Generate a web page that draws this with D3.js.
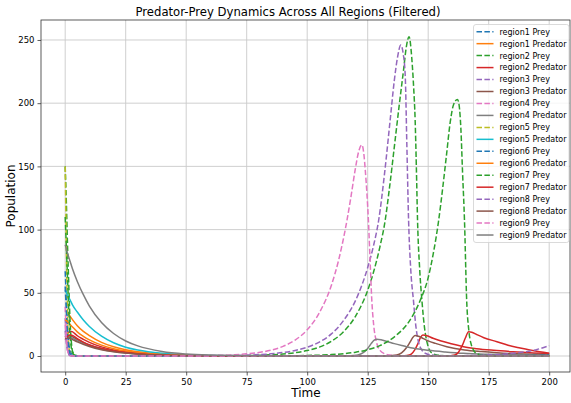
<!DOCTYPE html>
<html><head><meta charset="utf-8">
<script src="https://cdn.jsdelivr.net/npm/d3@7"></script>
<style>body{margin:0;background:#fff}text{font-family:"DejaVu Sans",sans-serif}</style>
</head><body><svg id="c" width="571" height="403"></svg>
<script>
const title = "Predator-Prey Dynamics Across All Regions (Filtered)";
const xTicks = [0,25,50,75,100,125,150,175,200];
const yTicks = [0,50,100,150,200,250];
const regions = ["region1","region2","region3","region4","region5","region6","region7","region8","region9"];

// [time, population]
const region1Prey = [[0,67],[0.5,45],[1,22],[1.5,10],[2,4],[3,1],[4,0.3],[6,0.05],[20,0.01],[100,0.01],[150,0.05],[170,0.2],[185,0.6],[200,1.8]];
const region1Pred = [[0,36],[1,34],[2,31.5],[3,28.8],[5,24],[7.5,19.5],[10,16.2],[15,10.8],[20,7.3],[25,4.9],[30,3.3],[40,1.5],[50,0.66],[60,0.3],[80,0.06],[100,0.01],[200,0.01]];
const region2Prey = [[0,150],[0.5,120],[1,85],[1.5,55],[2,28],[2.5,12],[3,4],[4,1],[5,0.3],[8,0.05],[30,0.02],[50,0.04],[60,0.08],[70,0.21],[80,0.58],[85,0.95],[90,1.6],[95,2.6],[100,4.3],[105,7],[110,11.6],[115,19.2],[120,31.6],[125,52],[127.5,67],[130,86],[132.2,107],[134,133],[136.4,172],[138,198],[139.8,226],[141,245],[142.1,252.6],[143.2,236],[144,212],[144.6,187],[145.1,150],[145.6,107],[146.5,68],[147.4,44],[148.5,22],[149.5,11],[151.5,2.4],[154,0.7],[158,0.2],[170,0.05],[200,0.05]];
const region2Pred = [[0,15],[1,18],[2,19.2],[2.7,19.3],[4,17.7],[5,16],[7.5,13.2],[10,10.8],[15,7.2],[20,4.8],[25,3.2],[30,2.2],[40,1],[50,0.44],[60,0.2],[80,0.04],[100,0.01],[135,0.02],[139,0.1],[141.2,0.4],[143,1.5],[144.5,5],[145.8,10],[146.8,14.5],[147.8,16.6],[149.5,16],[152,14],[155,12],[160,9.5],[164.6,7.4],[170,5.8],[177,4.5],[185,3.4],[192,2.6],[200,2]];
const region3Prey = [[0,30],[0.5,16],[1,6],[1.5,2],[2,0.6],[3,0.1],[10,0.01],[40,0.03],[50,0.07],[60,0.17],[70,0.44],[75,0.7],[80,1.1],[85,1.75],[90,2.8],[95,4.4],[100,7],[105,11],[110,17.5],[115,28],[120,44],[125,70],[127.5,88],[129.5,107],[132,145],[134.3,187],[136,218],[137.3,236],[138.7,246],[139.6,240],[140.5,222],[141.2,165],[141.9,107],[142.8,68],[143.9,44],[145,22],[146,11],[147.4,4.7],[149,2],[152,0.7],[156,0.25],[165,0.1],[200,0.1]];
const region3Pred = [[0,16],[1,16.6],[2,16.2],[3,15.2],[5,13],[10,8.7],[15,5.9],[20,3.9],[25,2.6],[30,1.8],[40,0.8],[50,0.36],[60,0.16],[80,0.03],[100,0.01],[128,0.02],[133,0.15],[137,0.8],[139,2.5],[141,6.5],[142.5,11],[143.7,14.8],[144.6,16.2],[146,15.6],[148,13.8],[150,12],[153,10],[157.7,7.4],[165,4.8],[172,3.5],[178.4,2.6],[190,1.5],[200,1]];
const region4Prey = [[0,39],[0.5,20],[1,6],[1.5,1.5],[2,0.4],[3,0.05],[10,0.02],[30,0.03],[40,0.06],[50,0.14],[60,0.37],[70,1.0],[75,1.7],[80,2.8],[85,4.6],[90,7.6],[95,12.6],[100,20.7],[105,34.2],[110,56],[113,76],[116.4,107],[118,125],[119.8,147],[121.3,162],[122.6,167],[123.4,160],[124,147],[124.7,128],[125.3,107],[126,75],[126.7,44],[127.5,24],[128.5,12],[130,4.7],[132,1.8],[134,0.8],[138,0.2],[150,0.05],[200,0.05]];
const region4Pred = [[0,15],[1,15.4],[2,14.8],[3,14],[5,12],[10,8],[15,5.4],[20,3.6],[25,2.4],[30,1.6],[40,0.73],[50,0.33],[60,0.15],[80,0.03],[100,0.01],[112,0.03],[116,0.15],[119,0.4],[121,0.9],[123,2.5],[125,6],[126.5,10],[127.7,12.5],[128.8,13.2],[130.5,12.8],[133,11.5],[136,9.8],[140,7.9],[144,6.1],[150,4.5],[157,3.2],[164.6,2.1],[175,1.4],[187,1],[200,0.7]];
const region5Prey = [[0,150],[0.3,110],[0.6,70],[1,30],[1.5,8],[2,2],[3,0.2],[5,0.02],[200,0.01]];
const region5Pred = [[0,52],[1,48],[2,44.5],[3,40.5],[5,34.8],[7.5,28.5],[10,23.4],[15,15.7],[20,10.5],[25,7],[30,4.7],[40,2.1],[50,0.95],[60,0.43],[70,0.19],[80,0.09],[100,0.02],[200,0.01]];
const region6Prey = [[0,55],[0.5,35],[1,16],[1.5,6],[2,2],[3,0.5],[4,0.1],[10,0.01],[150,0.01],[180,0.1],[200,0.6]];
const region6Pred = [[0,28.5],[1,27],[2,25],[3,23],[5,19.1],[7.5,15.6],[10,12.8],[15,8.6],[20,5.8],[25,3.9],[30,2.6],[40,1.2],[50,0.52],[60,0.23],[80,0.05],[100,0.01],[200,0.01]];
const region7Prey = [[0,110],[0.5,85],[1,60],[1.5,35],[2,17],[2.5,7],[3,2.5],[4,0.6],[6,0.1],[30,0.01],[60,0.02],[80,0.06],[90,0.15],[100,0.41],[110,1.1],[115,1.85],[120,3],[125,5],[130,8.2],[137,16.7],[142,27],[146.7,44],[150,62],[152,80],[154.3,107],[156,133],[157.5,158],[159.1,185],[160.5,199],[162.1,203],[162.8,198],[163.5,180],[164.2,145],[165,107],[165.9,44],[166.8,20],[167.8,9],[168.7,4.7],[170,2],[172,0.8],[175,0.3],[185,0.1],[200,0.08]];
const region7Pred = [[0,13],[1,15.5],[2,16.6],[3,16.2],[5,13.8],[7.5,11],[10,8.8],[15,5.9],[20,4],[25,2.7],[30,1.8],[40,0.8],[50,0.36],[60,0.16],[80,0.03],[100,0.01],[150,0.01],[157,0.05],[159.5,0.3],[161,0.8],[162.5,3],[164,8],[165.3,14],[166.7,19.2],[168,18.8],[170,17],[173,14.5],[178.4,11.3],[183,8.5],[188,6.3],[192,4.7],[196,3.3],[200,2.2]];
const region8Prey = [[0,20],[0.5,10],[1,4],[1.5,1.2],[2,0.4],[3,0.08],[10,0.01],[120,0.02],[150,0.08],[160,0.2],[170,0.5],[180,1.3],[185,2.1],[190,3.3],[195,5.2],[200,8.2]];
const region8Pred = [[0,14],[1,14.4],[2,13.8],[3,13],[5,11.2],[10,7.5],[15,5],[20,3.4],[25,2.3],[30,1.5],[40,0.7],[50,0.3],[60,0.14],[80,0.03],[100,0.01],[200,0.01]];
const region9Prey = [[0,25],[0.5,12],[1,4],[1.5,1],[2,0.3],[3,0.05],[10,0.01],[200,0.01]];
const region9Pred = [[0,88],[1,81],[2,75],[3,69],[5,59],[7.5,48.5],[10,39.5],[15,26.5],[20,17.8],[25,11.9],[30,8],[40,3.6],[50,1.6],[60,0.72],[70,0.33],[80,0.15],[100,0.03],[200,0.01]];

const preyData = [region1Prey,region2Prey,region3Prey,region4Prey,region5Prey,region6Prey,region7Prey,region8Prey,region9Prey];
const predData = [region1Pred,region2Pred,region3Pred,region4Pred,region5Pred,region6Pred,region7Pred,region8Pred,region9Pred];
const palette = ["#1f77b4","#ff7f0e","#2ca02c","#d62728","#9467bd","#8c564b","#e377c2","#7f7f7f","#bcbd22","#17becf"];

const series = [];
regions.forEach((r,i)=>{
  series.push({name:r+" Prey", data:preyData[i], dashed:true});
  series.push({name:r+" Predator", data:predData[i], dashed:false});
});
series.forEach((s,i)=>s.color = palette[i%10]);

const L=41, T=20, R=570, B=372;
const x = d3.scaleLinear().domain([-10,210]).range([L, L+(210+10)*2.42]);
const y = d3.scaleLinear().domain([-12.65, 265.8]).range([B, T]);

const svg = d3.select("#c");
svg.append("defs").append("clipPath").attr("id","clip").append("rect")
  .attr("x",L).attr("y",T).attr("width",R-L).attr("height",B-T);

const g = svg.append("g");
g.selectAll(".gx").data(xTicks).join("line")
  .attr("x1",d=>x(d)).attr("x2",d=>x(d)).attr("y1",T).attr("y2",B)
  .attr("stroke","#c9c9c9").attr("stroke-width",0.9);
g.selectAll(".gy").data(yTicks).join("line")
  .attr("y1",d=>y(d)).attr("y2",d=>y(d)).attr("x1",L).attr("x2",R)
  .attr("stroke","#c9c9c9").attr("stroke-width",0.9);

const line = d3.line().x(d=>x(d[0])).y(d=>y(d[1])).curve(d3.curveMonotoneX);
const lg = svg.append("g").attr("clip-path","url(#clip)");
series.forEach(s=>{
  lg.append("path").attr("d",line(s.data)).attr("fill","none")
    .attr("stroke",s.color).attr("stroke-width",1.5)
    .attr("stroke-dasharray", s.dashed ? "5.5,2.4" : null);
});

const xAxis = d3.axisBottom(x).tickValues(xTicks).tickSize(3.5).tickPadding(3).tickFormat(d3.format("d"));
const yAxis = d3.axisLeft(y).tickValues(yTicks).tickSize(3.5).tickPadding(3).tickFormat(d3.format("d"));
const xa = svg.append("g").attr("transform",`translate(0,${B})`).call(xAxis);
const ya = svg.append("g").attr("transform",`translate(${L},0)`).call(yAxis);
[xa,ya].forEach(a=>{
  a.select(".domain").remove();
  a.selectAll("text").attr("font-size",8.5).attr("fill","#000").style("font-family","DejaVu Sans");
  a.selectAll("line").attr("stroke","#333").attr("stroke-width",0.8);
});
svg.append("rect").attr("x",L).attr("y",T).attr("width",R-L).attr("height",B-T)
  .attr("fill","none").attr("stroke","#333").attr("stroke-width",0.8);

svg.append("text").attr("x",288).attr("y",15.5).attr("text-anchor","middle")
  .attr("font-size",12.5).attr("textLength",305).attr("lengthAdjust","spacingAndGlyphs").text(title);
svg.append("text").attr("x",306).attr("y",397).attr("text-anchor","middle")
  .attr("font-size",12).text("Time");
svg.append("text").attr("transform",`translate(15,${(T+B)/2}) rotate(-90)`).attr("text-anchor","middle")
  .attr("font-size",12).text("Population");

const lx=473.5, ly=24.5, lw=95.5, lh=218;
svg.append("rect").attr("x",lx).attr("y",ly).attr("width",lw).attr("height",lh).attr("rx",2.5)
  .attr("fill","#fff").attr("fill-opacity",0.8).attr("stroke","#d0d0d0").attr("stroke-width",0.8);
series.forEach((s,i)=>{
  const yy = 31.7 + i*11.96;
  svg.append("line").attr("x1",476.5).attr("x2",493.5).attr("y1",yy).attr("y2",yy)
    .attr("stroke",s.color).attr("stroke-width",1.5)
    .attr("stroke-dasharray", s.dashed ? "5.5,2.4" : null);
  svg.append("text").attr("x",499.5).attr("y",yy+2.9).attr("font-size",8).text(s.name);
});
</script></body></html>
